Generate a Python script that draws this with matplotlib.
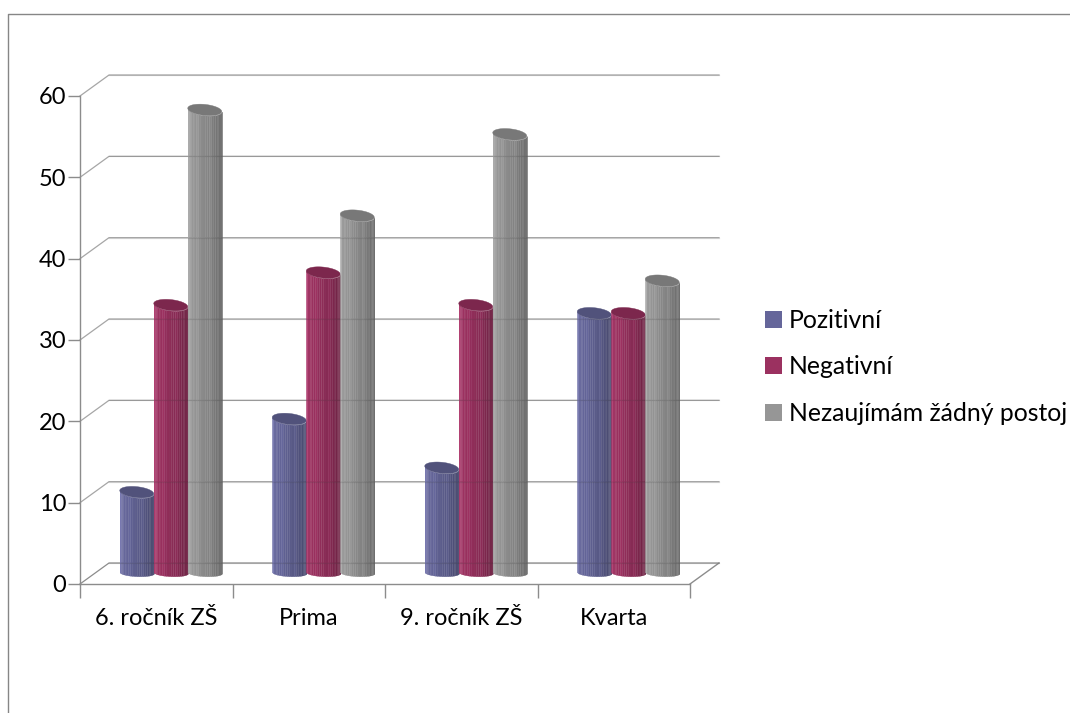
import numpy as np
import matplotlib.pyplot as plt
from matplotlib.colors import to_rgb
from matplotlib.patches import Patch

plt.rcParams['font.family'] = ['Lato', 'DejaVu Sans']

categories = ['6. ročník ZŠ', 'Prima', '9. ročník ZŠ', 'Kvarta']
series_names = ['Pozitivní', 'Negativní', 'Nezaujímám žádný postoj']
pozitivni = [10, 19, 13, 32]
negativni = [33, 37, 33, 32]
nezaujimam = [57, 44, 54, 36]
y_ticks = [0, 10, 20, 30, 40, 50, 60]

colors = ['#65669a', '#9b3160', '#969696']
line_col = '#8c8c8c'
grid_col = '#a6a6a6'

W, H = 1070, 713
px_y = 488 / 60
# depth of the 3d box in data units
depth_x = 29 / 152.5
depth_y = 21 / px_y
bar_w = 34 / 152.5

fig = plt.figure(figsize=(W / 100, H / 100), dpi=100)
ax = fig.add_axes([80 / W, (H - 584) / H, 610 / W, 488 / H])
ax.set_xlim(0, 4)
ax.set_ylim(0, 60)
ax.patch.set_alpha(0)
for s in ['top', 'right']:
    ax.spines[s].set_visible(False)
for s in ['left', 'bottom']:
    ax.spines[s].set_color(line_col)
    ax.spines[s].set_linewidth(1)
    ax.spines[s].set_zorder(1)

ax.set_xticks(range(5))
ax.set_xticklabels([])
ax.set_xticks([i + 0.5 for i in range(4)], categories, minor=True)
ax.set_yticks(y_ticks)
ax.tick_params(axis='x', which='major', length=10, color=line_col, width=1)
ax.tick_params(axis='x', which='minor', length=0, pad=17, labelsize=17)
ax.tick_params(axis='y', length=9, color=line_col, width=1, labelsize=17, pad=1)

# wall gridlines and the slanted side lines
for v in y_ticks:
    c = line_col if v == 0 else grid_col
    ax.plot([0, depth_x, 4 + depth_x], [v, v + depth_y, v + depth_y],
            color=c, lw=0.9, clip_on=False, zorder=1)
    # the walls show faintly through the cylinders
    ax.plot([depth_x, 4 + depth_x], [v + depth_y, v + depth_y],
            color='#404040', lw=0.9, alpha=0.15, clip_on=False, zorder=8)
ax.plot([4, 4 + depth_x], [0, depth_y], color=line_col, lw=1, clip_on=False, zorder=1)


def shade(col, f):
    return np.clip(np.array(to_rgb(col)) * f, 0, 1)


def cylinder(cx, value, col, z):
    a = bar_w / 2
    b_top = 5.5 / px_y
    b_low = 3.5 / px_y
    tilt = -0.3 * b_top / a
    base = depth_y / 2
    n = 24
    edges = a * np.sin(np.linspace(-np.pi / 2, np.pi / 2, n + 1))
    for i in range(n):
        x0, x1 = edges[i], edges[i + 1]
        xs = np.linspace(x0, x1, 4)
        round_part = np.sqrt(np.clip(1 - (xs / a) ** 2, 0, 1))
        low = base + 0.1 - b_low * round_part + tilt * xs * 0.4
        high = base + value - b_top * round_part + tilt * xs
        mid = (x0 + x1) / 2 / a
        f = 1.04 - 0.28 * (mid + 1) / 2 - 0.12 * max(mid - 0.4, 0)
        if i < 3:
            f += 0.06
        if i % 6 == 2:
            f += 0.05
        ax.fill_between(cx + xs, low, high, color=shade(col, f),
                        lw=0.2, clip_on=False, zorder=z)
    t = np.linspace(0, 2 * np.pi, 80)
    ex = a * np.cos(t)
    ey = b_top * np.sin(t) + tilt * ex
    ax.fill(cx + ex, base + value + ey, color=shade(col, 0.8), lw=0.3,
            clip_on=False, zorder=z + 0.5)


for g in range(len(categories)):
    vals = [pozitivni[g], negativni[g], nezaujimam[g]]
    for k, val in enumerate(vals):
        cx = g + 0.5 + depth_x / 2 + (k - 1) * bar_w
        cylinder(cx, val, colors[k], 3 + k)

handles = [Patch(facecolor=c, edgecolor='none', label=n) for c, n in zip(colors, series_names)]
fig.legend(handles=handles, loc='center left', bbox_to_anchor=(755 / W, (H - 367) / H),
           frameon=False, fontsize=17.8, handlelength=0.69, handleheight=0.69,
           handletextpad=0.29, labelspacing=0.95, borderpad=0.4, borderaxespad=0)

# outer chart frame
fig.add_artist(plt.Line2D([8 / W, 8 / W, 1], [0, (H - 14) / H, (H - 14) / H],
                          color='#868686', lw=1))

fig.savefig('out.png', dpi=100)
